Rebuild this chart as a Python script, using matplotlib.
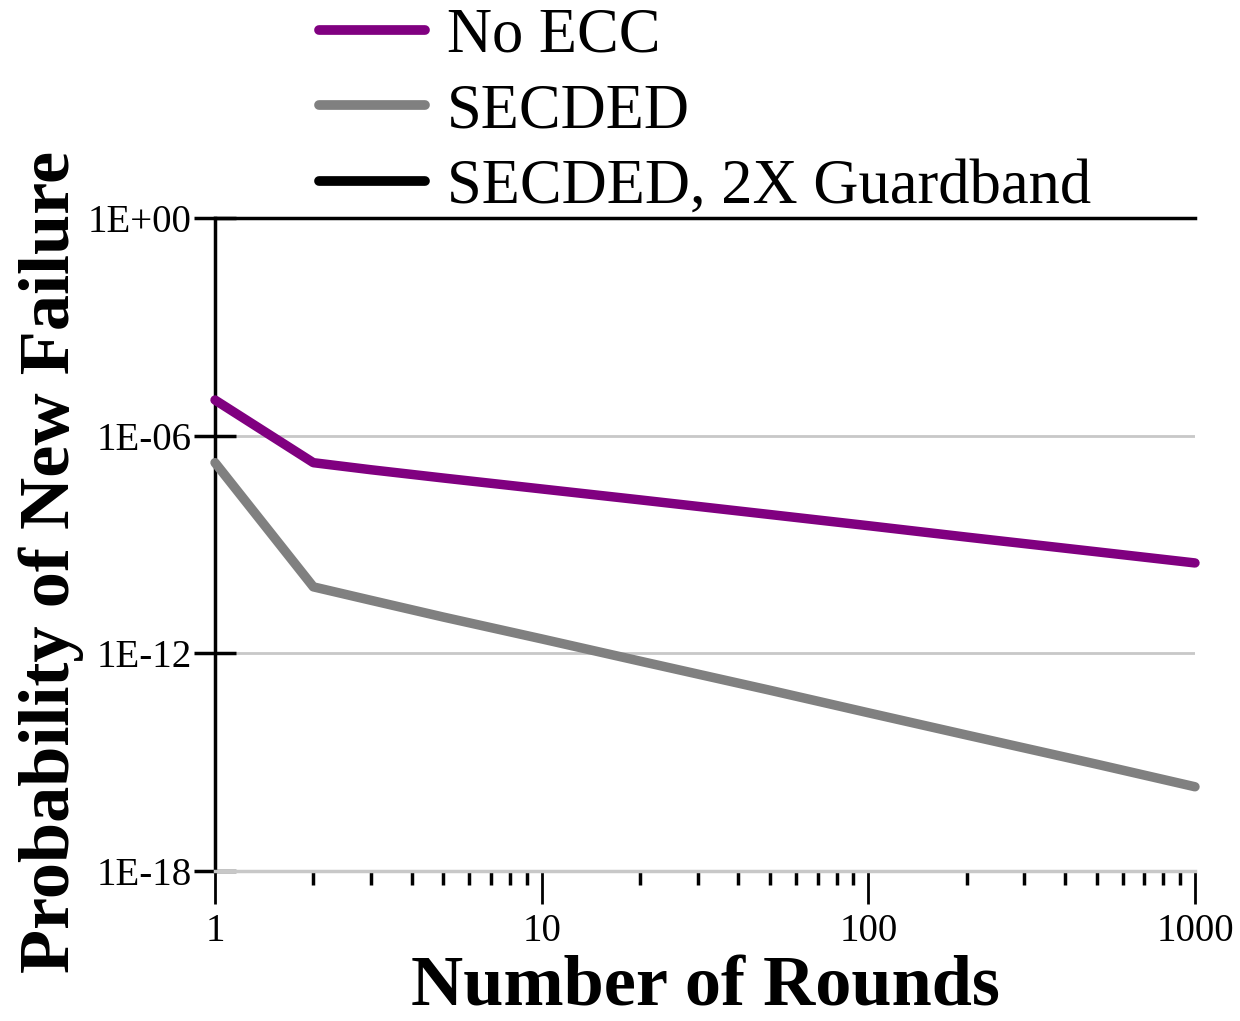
import numpy as np
import matplotlib
matplotlib.use("Agg")
from matplotlib import pyplot as plt
from matplotlib.ticker import LogLocator, NullFormatter, FixedLocator

plt.rcParams['font.family'] = ['Liberation Serif', 'DejaVu Serif']

# failure probability per number of rounds
rounds = [1, 2, 3, 5, 10, 20, 50, 100, 200, 500, 1000]
no_ecc = [9.6e-6, 1.8e-7, 1.15e-7, 6.8e-8, 3.4e-8, 1.7e-8, 6.7e-9, 3.3e-9, 1.6e-9, 6.3e-10, 3.1e-10]
secded = [1.8e-7, 6.8e-11, 2.9e-11, 1.0e-11, 2.5e-12, 6.1e-13, 9.6e-14, 2.3e-14, 5.6e-15, 8.8e-16, 2.1e-16]
secded_2x = []  # stays below the plotted range

y_ticks = [1e0, 1e-6, 1e-12, 1e-18]
y_labels = ['1E+00', '1E-06', '1E-12', '1E-18']
x_ticks = [1, 10, 100, 1000]
x_labels = ['1', '10', '100', '1000']

fig = plt.figure(figsize=(12.4, 10.21), dpi=100)
ax = fig.add_axes([0.1734, 0.1469, 0.7903, 0.6396])

ax.set_xscale('log')
ax.set_yscale('log')
ax.set_xlim(1, 1000)
ax.set_ylim(1e-18, 1e0)

# horizontal grid
for yv in y_ticks[1:]:
    ax.axhline(yv, color='#c8c8c8', lw=2, zorder=1)

kw = dict(lw=6.8, solid_capstyle='round', solid_joinstyle='round', zorder=3)
ax.plot(rounds, no_ecc, color='#800080', label='No ECC', clip_on=False, **kw)
ax.plot(rounds, secded, color='#808080', label='SECDED', clip_on=False, **kw)
ax.plot(rounds[:len(secded_2x)], secded_2x, color='black', label='SECDED, 2X Guardband', **kw)

ax.yaxis.set_major_locator(FixedLocator(y_ticks))
ax.set_yticklabels(y_labels)
ax.yaxis.set_minor_locator(FixedLocator([]))
ax.xaxis.set_major_locator(FixedLocator(x_ticks))
ax.set_xticklabels(x_labels)
ax.xaxis.set_minor_locator(LogLocator(base=10, subs=np.arange(2, 10)))
ax.xaxis.set_minor_formatter(NullFormatter())

ax.tick_params(axis='y', which='major', direction='inout', length=30, width=2.5,
               labelsize=28, pad=2)
ax.tick_params(axis='x', which='major', direction='out', length=24, width=2,
               labelsize=28, pad=6)
ax.tick_params(axis='x', which='minor', direction='out', length=10, width=2.5)

ax.spines['right'].set_visible(False)
ax.spines['bottom'].set_color('#c8c8c8')
ax.spines['bottom'].set_linewidth(2.5)
ax.spines['left'].set_linewidth(2.5)
ax.spines['top'].set_linewidth(2.5)
ax.xaxis.set_tick_params(color='black')

ax.set_xlabel('Number of Rounds', fontsize=52, fontweight='bold', labelpad=4)
ax.set_ylabel('Probability of New Failure', fontsize=52, fontweight='bold')
ax.yaxis.set_label_coords(-0.134, 0.473)

leg = fig.legend(loc='upper left', bbox_to_anchor=(0.237, 1.017), frameon=False,
                 fontsize=45, handlelength=1.7, handletextpad=0.35, labelspacing=0.28,
                 borderaxespad=0)
for h in leg.get_lines():
    h.set_linewidth(7)
    h.set_solid_capstyle('round')

fig.savefig('out.png', dpi=100)
